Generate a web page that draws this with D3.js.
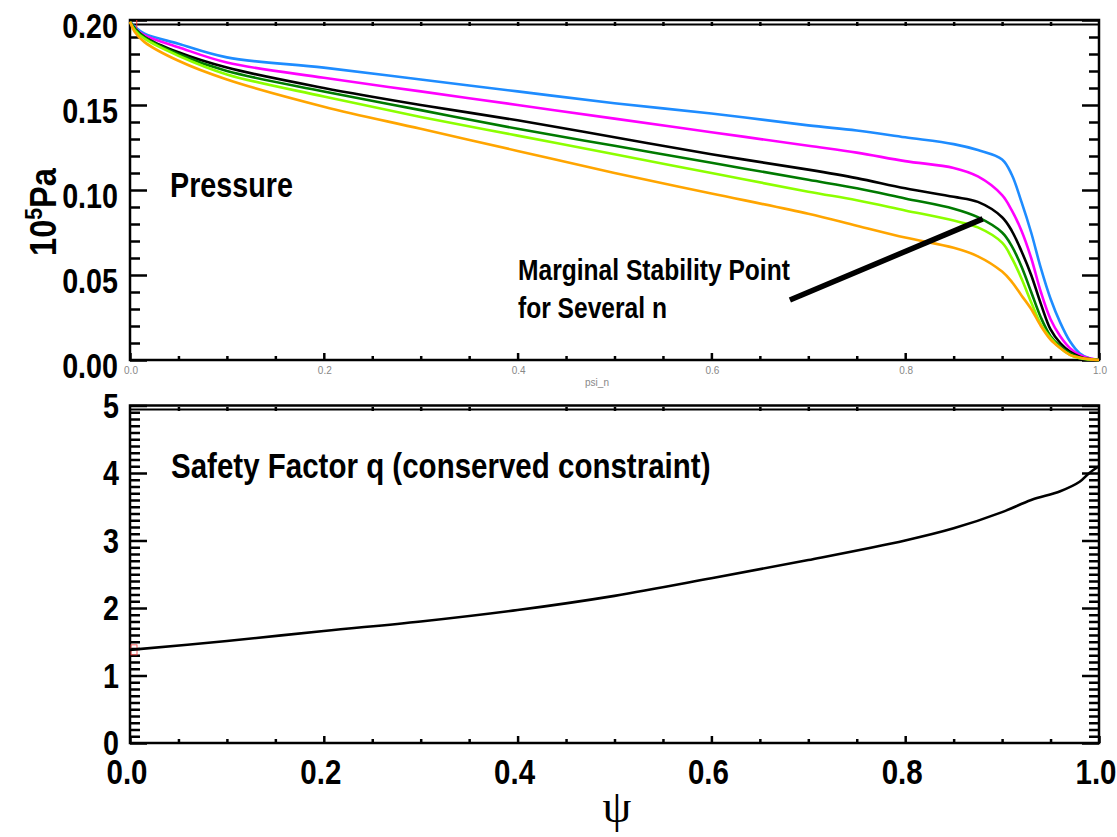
<!DOCTYPE html>
<html><head><meta charset="utf-8">
<script src="https://cdn.jsdelivr.net/npm/d3@7"></script>
<style>
body{margin:0;background:#fff}
svg text{font-family:"Liberation Sans",Arial,sans-serif;font-weight:bold;fill:#000}
</style>
</head><body><svg id="c" width="1117" height="837"></svg>
<script>
// ---------- data ----------
const psiGrid = [0,0.005,0.015,0.05,0.1,0.2,0.3,0.4,0.5,0.6,0.7,0.75,0.8,0.85,0.875,0.9,0.91,0.92,0.93,0.94,0.95,0.96,0.97,0.98,0.99,1.0];
const pBlue    = [0.199,0.196,0.192,0.186,0.178,0.172,0.165,0.158,0.151,0.145,0.138,0.135,0.131,0.127,0.1235,0.118,0.109,0.093,0.075,0.054,0.036,0.022,0.011,0.004,0.001,0];
const pMagenta = [0.199,0.195,0.191,0.184,0.175,0.166,0.158,0.150,0.142,0.134,0.126,0.122,0.117,0.113,0.108,0.097,0.088,0.076,0.060,0.040,0.024,0.014,0.007,0.003,0.001,0];
const pBlack   = [0.199,0.195,0.190,0.181,0.172,0.160,0.150,0.141,0.131,0.121,0.112,0.107,0.101,0.096,0.093,0.084,0.076,0.064,0.050,0.033,0.018,0.010,0.005,0.002,0.0005,0];
const pDkGreen = [0.199,0.195,0.190,0.180,0.170,0.158,0.147,0.136,0.126,0.116,0.106,0.101,0.095,0.089,0.084,0.075,0.067,0.055,0.040,0.025,0.014,0.008,0.004,0.0015,0.0005,0];
const pLtGreen = [0.199,0.194,0.189,0.179,0.168,0.155,0.143,0.132,0.121,0.110,0.099,0.094,0.088,0.082,0.078,0.069,0.060,0.048,0.034,0.021,0.013,0.007,0.003,0.001,0.0003,0];
const pOrange  = [0.199,0.193,0.187,0.176,0.165,0.149,0.136,0.123,0.110,0.098,0.086,0.079,0.072,0.066,0.061,0.052,0.046,0.038,0.030,0.020,0.012,0.007,0.003,0.0015,0.0005,0];
const pressureSeries = [
  {name:"n1", values:pBlue,    color:"#1e8cff"},
  {name:"n2", values:pMagenta, color:"#ff00ff"},
  {name:"n3", values:pBlack,   color:"#000000"},
  {name:"n4", values:pDkGreen, color:"#007a00"},
  {name:"n5", values:pLtGreen, color:"#8cff00"},
  {name:"n6", values:pOrange,  color:"#ffa500"}
];
const psiQ = [0,0.1,0.2,0.3,0.4,0.5,0.6,0.7,0.8,0.85,0.9,0.93,0.96,0.98,0.99,1.0];
const qVals = [1.38,1.51,1.66,1.80,1.97,2.18,2.44,2.71,3.00,3.18,3.42,3.60,3.73,3.87,4.00,4.10];
const marginalLine = [[0.681,0.0353],[0.880,0.083]];
const topYTicks = [0,0.05,0.10,0.15,0.20];
const botYTicks = [0,1,2,3,4,5];
const xTicks = [0,0.2,0.4,0.6,0.8,1.0];

// ---------- layout ----------
const svg = d3.select("#c");
svg.append("rect").attr("width",1117).attr("height",837).attr("fill","#fff");
const L=130, R=1099, SX=0.82;
const x = d3.scaleLinear().domain([0,1]).range([L,R]);
const yT = d3.scaleLinear().domain([0,0.2]).range([360,20]);
const yB = d3.scaleLinear().domain([0,5]).range([743,405.5]);

function tickAxis(axisFn, scale, vals, size, transform){
  const g = svg.append("g").attr("transform",transform)
    .call(axisFn(scale).tickValues(vals).tickSize(size).tickFormat(""));
  g.select(".domain").remove();
  g.selectAll(".tick line").attr("stroke","#000").attr("stroke-width",2.5);
  return g;
}
const minorT = d3.range(0,0.2001,0.01).map(v=>+v.toFixed(3)).filter(v=>Math.round(v*100)%5!==0);
const minorB = d3.range(0,5.001,0.1).map(v=>+v.toFixed(2)).filter(v=>Math.round(v*10)%10!==0);
const xMinor = d3.range(0,1.0001,0.05).map(v=>+v.toFixed(2)).filter(v=>Math.round(v*100)%20!==0);

// top panel ticks
tickAxis(d3.axisLeft, yT, topYTicks, -17, `translate(${L},0)`);
tickAxis(d3.axisLeft, yT, minorT, -10, `translate(${L},0)`);
tickAxis(d3.axisRight, yT, topYTicks, -17, `translate(${R},0)`);
tickAxis(d3.axisRight, yT, minorT, -10, `translate(${R},0)`);
tickAxis(d3.axisBottom, x, xTicks, -7, `translate(0,360)`);
tickAxis(d3.axisBottom, x, xMinor, -4, `translate(0,360)`);
tickAxis(d3.axisTop, x, xMinor.concat([0.2,0.4,0.6,0.8]), -4, `translate(0,22)`);
// bottom panel ticks
tickAxis(d3.axisLeft, yB, botYTicks, -17, `translate(${L},0)`);
tickAxis(d3.axisLeft, yB, minorB, -10, `translate(${L},0)`);
tickAxis(d3.axisRight, yB, botYTicks, -17, `translate(${R},0)`);
tickAxis(d3.axisRight, yB, minorB, -10, `translate(${R},0)`);
tickAxis(d3.axisBottom, x, xTicks, -7, `translate(0,743)`);
tickAxis(d3.axisBottom, x, xMinor, -4, `translate(0,743)`);
tickAxis(d3.axisTop, x, xMinor, -4, `translate(0,407)`);

// frames
function frame(t,b,inner){
  svg.append("rect").attr("x",L).attr("y",t).attr("width",R-L).attr("height",b-t)
    .attr("fill","none").attr("stroke","#000").attr("stroke-width",2.5);
  svg.append("line").attr("x1",L).attr("x2",R).attr("y1",inner).attr("y2",inner)
    .attr("stroke","#000").attr("stroke-width",2);
}
frame(20,360,24.5);
frame(405.5,743,409.5);

// pressure curves
const lineT = d3.line().x(d=>x(d[0])).y(d=>yT(d[1])).curve(d3.curveCatmullRom.alpha(0.5));
svg.append("g").selectAll("path").data(pressureSeries).join("path")
  .attr("d",s=>lineT(psiGrid.map((p,i)=>[p,s.values[i]])))
  .attr("fill","none").attr("stroke",s=>s.color).attr("stroke-width",2.6);

// small red marks
svg.append("line").attr("x1",x(0.007)).attr("x2",x(0.007)).attr("y1",yT(0.2)).attr("y2",yT(0.195))
  .attr("stroke","#ff3030").attr("stroke-width",1);
svg.append("rect").attr("x",x(0)+1).attr("y",yB(1.38)-5).attr("width",6).attr("height",10)
  .attr("fill","none").attr("stroke","#ff4040").attr("stroke-width",0.8);

// marginal stability annotation line
svg.append("path").attr("d",d3.line().x(d=>x(d[0])).y(d=>yT(d[1]))(marginalLine))
  .attr("stroke","#000").attr("stroke-width",5.5).attr("fill","none");

// q curve
const lineB = d3.line().x(d=>x(d[0])).y(d=>yB(d[1])).curve(d3.curveCatmullRom.alpha(0.5));
svg.append("path").attr("d",lineB(psiQ.map((p,i)=>[p,qVals[i]])))
  .attr("fill","none").attr("stroke","#000").attr("stroke-width",2.6);

// condensed bold text helper
function ctext(sel, px, py, size, anchor){
  return sel.attr("transform",(d,i)=>`translate(${typeof px==="function"?px(d):px},${typeof py==="function"?py(d):py}) scale(${SX},1)`)
    .attr("text-anchor",anchor||"start").style("font-size",size+"px");
}

// tick labels
const fmt2 = d3.format(".2f"), fmt1 = d3.format(".1f");
ctext(svg.append("g").selectAll("text").data(topYTicks).join("text"), 118, d=>yT(d)+18, 35, "end").text(d=>fmt2(d));
ctext(svg.append("g").selectAll("text").data(botYTicks).join("text"), 119, d=>yB(d)+12, 35, "end").text(d=>d);
ctext(svg.append("g").selectAll("text").data(xTicks).join("text"), d=>x(d)-3, 784, 36, "middle").text(d=>fmt1(d));
svg.append("g").selectAll("text").data(xTicks).join("text")
  .attr("x",d=>x(d)+1).attr("y",374).attr("text-anchor","middle")
  .style("font-size","10px").style("font-weight","normal").style("fill","#888").text(d=>fmt1(d));
svg.append("text").attr("x",597).attr("y",386).attr("text-anchor","middle")
  .style("font-size","10px").style("font-weight","normal").style("fill","#888").text("psi_n");

// axis titles
const yl = svg.append("text").attr("transform","translate(56,212) rotate(-90) scale(0.88,1)").attr("text-anchor","middle")
  .style("font-size","37px");
yl.append("tspan").text("10");
yl.append("tspan").attr("dy",-14).style("font-size","24px").text("5");
yl.append("tspan").attr("dy",14).text("Pa");
svg.append("text").attr("x",617).attr("y",822).attr("text-anchor","middle")
  .style("font-family","'Liberation Serif','DejaVu Serif',serif").style("font-weight","normal")
  .style("font-size","46px").text("ψ");

// annotations
ctext(svg.append("text"),170,197,35).text("Pressure");
ctext(svg.append("text"),518,280,30).text("Marginal Stability Point");
ctext(svg.append("text"),518,318,30).text("for Several n");
ctext(svg.append("text"),171,478,36).text("Safety Factor q (conserved constraint)");
</script>
</body></html>
